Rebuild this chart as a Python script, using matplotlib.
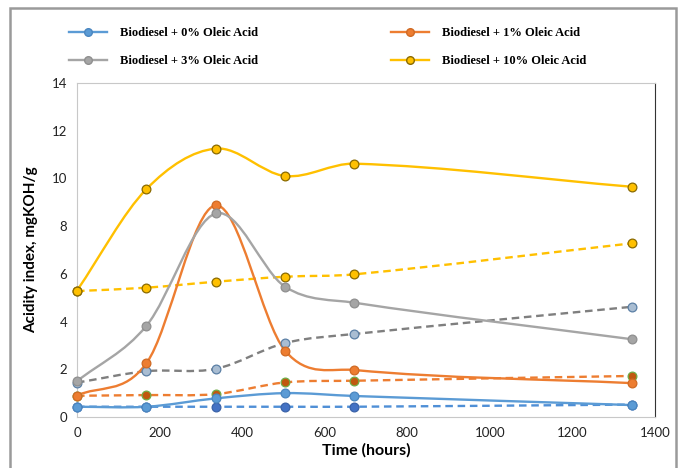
import matplotlib.pyplot as plt
import numpy as np
from matplotlib.path import Path
from matplotlib.patches import PathPatch, Rectangle
from matplotlib.lines import Line2D

# data
hours = [0, 168, 336, 504, 672, 1344]

oleic0 = [0.43, 0.43, 0.78, 1.0, 0.88, 0.5]
oleic0_b = [0.43, 0.43, 0.43, 0.43, 0.43, 0.52]
oleic1 = [0.9, 2.25, 8.87, 2.78, 1.97, 1.42]
oleic1_b = [0.89, 0.92, 0.96, 1.45, 1.52, 1.72]
oleic3 = [1.5, 3.82, 8.53, 5.46, 4.79, 3.26]
oleic3_b = [1.44, 1.92, 2.02, 3.1, 3.48, 4.62]
oleic10 = [5.3, 9.55, 11.25, 10.1, 10.62, 9.65]
oleic10_b = [5.28, 5.42, 5.67, 5.88, 5.98, 7.28]

labels = ['Biodiesel + 0% Oleic Acid', 'Biodiesel + 1% Oleic Acid',
          'Biodiesel + 3% Oleic Acid', 'Biodiesel + 10% Oleic Acid']
xticks = [0, 200, 400, 600, 800, 1000, 1200, 1400]
yticks = [0, 2, 4, 6, 8, 10, 12, 14]


def smooth_path(x, y):
    # smoothed line like excel: cubic hermite pieces as bezier curves
    x = np.asarray(x, float)
    y = np.asarray(y, float)
    n = len(x)
    m = np.zeros(n)
    for i in range(n):
        a = max(i - 1, 0)
        b = min(i + 1, n - 1)
        m[i] = (y[b] - y[a]) / (x[b] - x[a])
    verts = [(x[0], y[0])]
    codes = [Path.MOVETO]
    for i in range(n - 1):
        h = (x[i + 1] - x[i]) / 3.0
        verts += [(x[i] + h, y[i] + m[i] * h),
                  (x[i + 1] - h, y[i + 1] - m[i + 1] * h),
                  (x[i + 1], y[i + 1])]
        codes += [Path.CURVE4] * 3
    return Path(verts, codes)


fig = plt.figure(figsize=(6.84, 4.68), dpi=100)
fig.patches.append(Rectangle((10 / 684, -0.05), 666 / 684, 1 - 8 / 468 + 0.05,
                             transform=fig.transFigure, fill=False,
                             edgecolor='#9a9a9a', lw=1.8))
ax = fig.add_axes([77 / 684, 1 - 417 / 468, (655 - 77) / 684, (417 - 83) / 468])

series = [
    (oleic0_b, '#4f8fd6', '--', '#4472C4', '#3a62a8'),
    (oleic1_b, '#ED7D31', '--', '#C0580F', '#70AD47'),
    (oleic3_b, '#7F7F7F', '--', '#A9BDD2', '#5b7fa5'),
    (oleic10_b, '#FFC000', '--', '#FFC000', '#8a6a00'),
    (oleic0, '#5B9BD5', '-', '#5B9BD5', '#4a86c0'),
    (oleic1, '#ED7D31', '-', '#ED7D31', '#d06a24'),
    (oleic3, '#A5A5A5', '-', '#A5A5A5', '#8f8f8f'),
    (oleic10, '#FFC000', '-', '#FFC000', '#8a6a00'),
]

for vals, col, ls, mfc, mec in series:
    dash = (0, (3.2, 2.0)) if ls == '--' else '-'
    ax.add_patch(PathPatch(smooth_path(hours, vals), fill=False, edgecolor=col,
                           lw=1.7, linestyle=dash, clip_on=False, zorder=2))
    ax.plot(hours, vals, ls='none', marker='o', ms=6.3, mfc=mfc, mec=mec,
            mew=0.9, clip_on=False, zorder=3)

ax.set_xlim(0, 1400)
ax.set_ylim(0, 14)
ax.set_xticks(xticks)
ax.set_yticks(yticks)
ax.tick_params(length=0, labelsize=9.5, labelcolor='#222222', pad=7)
for lab in ax.get_xticklabels() + ax.get_yticklabels():
    lab.set_family('Lato')
for s in ['left', 'bottom', 'top']:
    ax.spines[s].set_color('#c8c8c8')
ax.spines['right'].set_color('#333333')

ax.set_xlabel('Time (hours)', fontsize=11.5, fontweight='bold', family='Lato', labelpad=3)
ax.set_ylabel('Acidity index, mgKOH/g', fontsize=11, fontweight='bold', family='Lato', labelpad=10)

# legend with the solid series only
handles = [Line2D([], [], color=c, lw=1.7, marker='o', ms=5.5, mfc=mf, mec=me)
           for _, c, _, mf, me in series[4:]]
order = [0, 2, 1, 3]
fig.legend([handles[i] for i in order], [labels[i] for i in order], ncol=2,
           loc='upper left', bbox_to_anchor=(58 / 684, 1 - 16 / 468),
           frameon=False, prop={'family': 'Liberation Serif', 'weight': 'bold', 'size': 9},
           handlelength=3.0, columnspacing=10.6, labelspacing=1.3, handletextpad=1.1)

fig.savefig('out.png', dpi=100)
